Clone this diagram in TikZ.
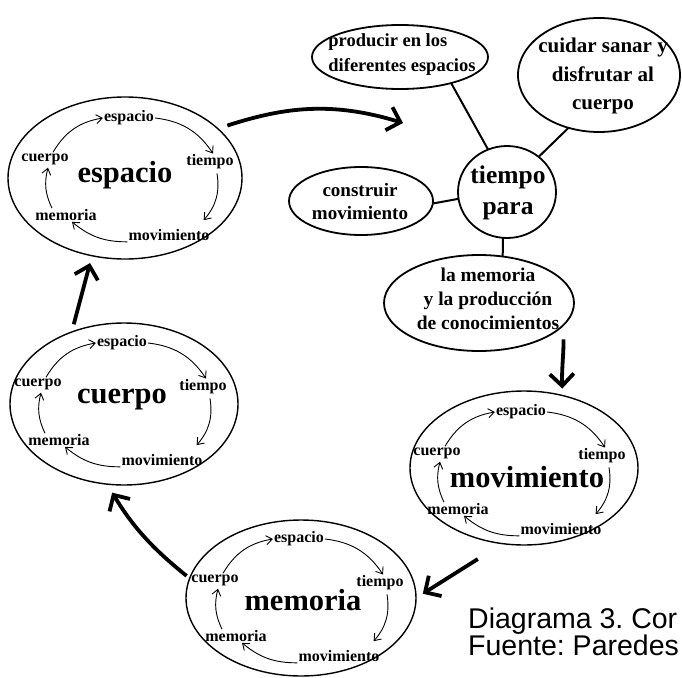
\documentclass[tikz,border=0pt]{standalone}
\usepackage{fontspec}
\setmainfont{Liberation Serif}
\newfontfamily\capfont{Liberation Sans}
\usetikzlibrary{shapes.geometric,arrows.meta}
\frenchspacing
\tikzset{
  ell/.style={draw, ellipse, line width=1.4pt, inner sep=0pt, outer sep=0pt},
  bub/.style={draw, ellipse, line width=1.8pt, inner sep=0pt, outer sep=0pt},
  small/.style={font=\bfseries\fontsize{16}{18}\selectfont, inner sep=1pt},
  biglbl/.style={font=\bfseries\fontsize{30.5}{32}\selectfont, inner sep=1pt},
  btxt/.style={font=\bfseries, align=center, inner sep=0pt},
  inarr/.style={line width=0.9pt, -{Straight Barb[length=6pt,width=9pt]}},
  bigarr/.style={line width=3.8pt, -{Straight Barb[length=12pt,width=24pt]}},
  link/.style={line width=2pt},
  captxt/.style={font=\capfont\fontsize{28.5}{32}\selectfont, inner sep=0pt, anchor=base west},
  pics/cyc/.style n args={2}{code={
     \node[biglbl] (-big) at (#2) {#1};
     \node[small] (-esp) at (-1,60) {espacio};
     \node[small] (-tie) at (80,16) {tiempo};
     \node[small] (-cue) at (-85,19) {cuerpo};
     \node[small] (-mem) at (-64,-37) {memoria};
     \node[small] (-mov) at (39,-57) {movimiento};
     \draw[inarr] ([xshift=8pt]-cue.north) to[bend left=25] (-esp.west);
     \draw[inarr] (-esp.east) to[bend left=25] ([xshift=3pt]-tie.north);
     \draw[inarr] ([shift={(7pt,-3pt)}]-tie.south) to[bend left=25] ([shift={(-7pt,8pt)}]-mov.north east);
     \draw[inarr] (-mov.south west) to[bend left=20] ([xshift=6pt]-mem.south);
     \draw[inarr] ([xshift=-14pt]-mem.north) to[bend left=20] ([shift={(3pt,-2pt)}]-cue.south);
  }}
}
\begin{document}
\begin{tikzpicture}[x=1pt,y=1pt]
\useasboundingbox (0,0) rectangle (682,-677);
\clip (0,0) rectangle (682,-677);

% cycle ellipses
\node[ell, minimum width=234pt, minimum height=162pt] (Eesp) at (125,-178) {};
\node[ell, minimum width=228pt, minimum height=162pt] (Ecue) at (124,-404) {};
\node[ell, minimum width=228pt, minimum height=154pt] (Emov) at (524,-468) {};
\node[ell, minimum width=230pt, minimum height=156pt] (Emem) at (301,-598) {};

\pic (C1) at (130,-178) {cyc={espacio}{-5,3}};
\pic (C2) at (123,-403) {cyc={cuerpo}{-1,3}};
\pic (C3) at (522,-472) {cyc={movimiento}{5,-5}};
\pic (C4) at (300,-599) {cyc={memoria}{3,-1}};

% top right bubbles
\node[bub, minimum width=176pt, minimum height=64pt] (prod) at (400,-57) {};
\node[btxt, align=left, font=\bfseries\fontsize{18.5}{25}\selectfont] (prodT) at (402,-55) {producir en los\\diferentes espacios};
\node[bub, minimum width=162pt, minimum height=114pt] (cuid) at (599,-75) {};
\node[btxt, font=\bfseries\fontsize{21}{28.5}\selectfont] (cuidT) at (603,-76) {cuidar sanar y\\disfrutar al\\cuerpo};
\node[bub, minimum width=144pt, minimum height=68pt] (cons) at (361,-201) {};
\node[btxt, font=\bfseries\fontsize{19}{23}\selectfont] (consT) at (360,-201.5) {construir\\movimiento};
\node[bub, minimum width=98pt, minimum height=92pt] (tp) at (507,-192) {};
\node[btxt, font=\bfseries\fontsize{25.5}{31}\selectfont] (tpT) at (508,-192.5) {tiempo\\para};
\node[bub, minimum width=190pt, minimum height=96pt] (Lmem) at (479,-303) {};
\node[btxt, font=\bfseries\fontsize{19.5}{24}\selectfont] (LmemT) at (488,-299) {la memoria\\y la producción\\de conocimientos};

\draw[link] (prod.-27) -- (tp.114);
\draw[link] (cuid.-120) -- (tp.48);
\draw[link] (cons.-2) -- (tp.188);
\draw[link] (tp.-95) -- (Lmem.63);

% thick arrows
\coordinate (a1) at (403,-123);
\draw[bigarr, shorten <=10pt] (Eesp.28) to[out=18,in=163] (a1);
\draw[bigarr, shorten <=14pt, shorten >=7pt] (Lmem.-15) to[out=-88,in=92] (Emov.62);
\draw[bigarr, shorten <=29pt, shorten >=8pt] (Emov.-106.5) -- (Emem.0);
\draw[bigarr, shorten <=4pt, shorten >=10pt] (Emem.170) to[bend left=10] (Ecue.-102);
\draw[bigarr, shorten <=8pt, shorten >=7.6pt] (Ecue.126) -- (Eesp.-113);

% caption
\node[captxt] (cap1) at (468,-628) {Diagrama 3. Cor};
\node[captxt] (cap2) at (468,-655) {Fuente: Paredes};
\end{tikzpicture}
\end{document}
